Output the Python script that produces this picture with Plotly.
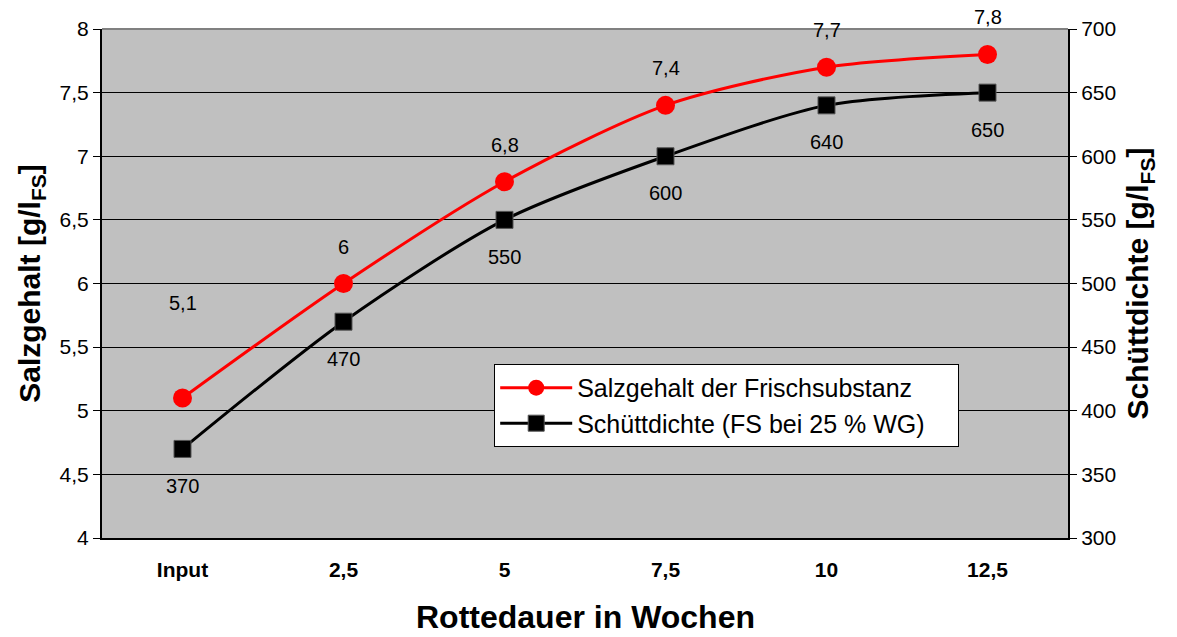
import plotly.graph_objects as go

weeks = ["Input", "2,5", "5", "7,5", "10", "12,5"]
salt = [5.1, 6.0, 6.8, 7.4, 7.7, 7.8]
salt_labels = ["5,1", "6", "6,8", "7,4", "7,7", "7,8"]
density = [370, 470, 550, 600, 640, 650]
density_labels = ["370", "470", "550", "600", "640", "650"]

left_ticks = [4, 4.5, 5, 5.5, 6, 6.5, 7, 7.5, 8]
left_ticktext = ["4", "4,5", "5", "5,5", "6", "6,5", "7", "7,5", "8"]
right_ticks = [300, 350, 400, 450, 500, 550, 600, 650, 700]

FONT = "Liberation Sans, Arial, sans-serif"
PAD = "\u00a0" * 4  # right-hand padding inside the legend box

fig = go.Figure()

fig.add_trace(go.Scatter(
    x=weeks, y=salt, name="Salzgehalt der Frischsubstanz" + PAD,
    mode="lines+markers", line=dict(color="#FF0000", width=3, shape="spline", smoothing=0.8),
    marker=dict(symbol="circle", size=19, color="#FF0000"),
    yaxis="y",
))
fig.add_trace(go.Scatter(
    x=weeks, y=density, name="Schüttdichte (FS bei 25 % WG)" + PAD,
    mode="lines+markers", line=dict(color="#000000", width=3, shape="spline", smoothing=0.8),
    marker=dict(symbol="square", size=17, color="#000000", line=dict(color="#555555", width=1)),
    yaxis="y2",
))

# value labels, placed by category index so numeric-looking names stay categorical
annotations = []
for i, (v, t) in enumerate(zip(salt, salt_labels)):
    annotations.append(dict(x=i, y=v, xref="x", yref="y", text=t, showarrow=False,
                            yshift=95 if i == 0 else 37,
                            font=dict(family=FONT, size=20, color="black")))
for i, (v, t) in enumerate(zip(density, density_labels)):
    annotations.append(dict(x=i, y=v, xref="x", yref="y2", text=t, showarrow=False,
                            yshift=-37, font=dict(family=FONT, size=20, color="black")))
annotations.append(dict(x=0.5, y=-0.155, xref="paper", yref="paper", xanchor="center", yanchor="middle",
                        text="<b>Rottedauer in Wochen</b>", showarrow=False,
                        font=dict(family=FONT, size=32, color="black")))

fig.update_layout(
    width=1177, height=637,
    margin=dict(l=102, r=109, t=29, b=99),
    paper_bgcolor="white", plot_bgcolor="#C0C0C0",
    font=dict(family=FONT, color="black"),
    showlegend=True,
    legend=dict(x=0.406, y=0.342, xanchor="left", yanchor="top",
                bgcolor="white", bordercolor="black", borderwidth=1,
                font=dict(family=FONT, size=25, color="black"),
                itemwidth=72, tracegroupgap=4),
    xaxis=dict(type="category", range=[-0.5, 5.5], showgrid=False, ticks="",
               showline=True, linecolor="black", linewidth=2,
               tickfont=dict(family=FONT, size=21, color="black"),
               ticktext=["<b>%s</b>" % w for w in weeks], tickvals=weeks, ticklabelstandoff=12),
    yaxis=dict(range=[4, 8], tickvals=left_ticks, ticktext=left_ticktext,
               showgrid=True, gridcolor="black", gridwidth=1,
               showline=True, linecolor="black", linewidth=2,
               ticks="outside", ticklen=7, tickcolor="black",
               tickfont=dict(family=FONT, size=21, color="black"),
               title=dict(text="<b>Salzgehalt [g/l<sub>FS</sub>]</b>", standoff=10,
                          font=dict(family=FONT, size=30, color="black")),
               zeroline=False),
    yaxis2=dict(range=[300, 700], tickvals=right_ticks, overlaying="y", side="right",
                showgrid=False, showline=True, linecolor="black", linewidth=2,
                ticks="outside", ticklen=7, tickcolor="black",
                tickfont=dict(family=FONT, size=21, color="black"),
                title=dict(text="<b>Schüttdichte [g/l<sub>FS</sub>]</b>", standoff=12,
                           font=dict(family=FONT, size=30, color="black")),
                zeroline=False),
    annotations=annotations,
    shapes=[dict(type="line", xref="paper", yref="paper", x0=0, x1=1, y0=1, y1=1,
                 line=dict(color="#808080", width=2), layer="above")],
)

fig.write_html("out.html")
